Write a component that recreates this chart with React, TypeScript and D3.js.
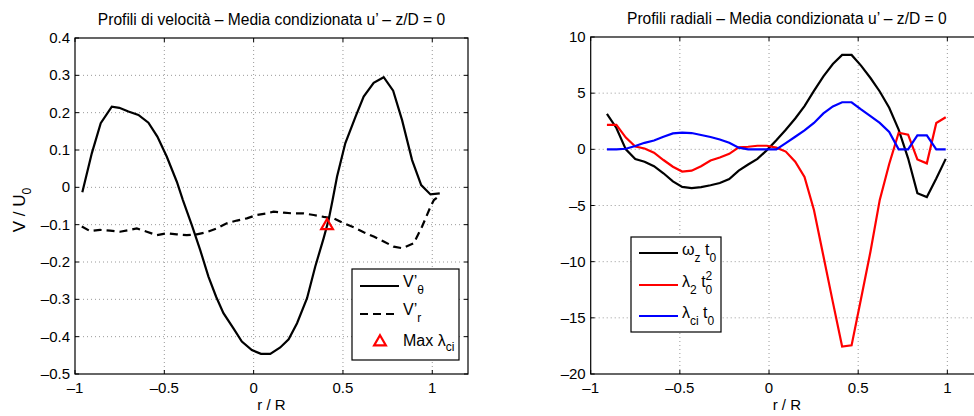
import React, { useEffect, useRef } from 'react';
import * as d3 from 'd3';

// ---- left panel: velocity profiles ----
const vthetaR = [-0.959, -0.906, -0.856, -0.794, -0.752, -0.701, -0.645, -0.589, -0.539, -0.486, -0.43, -0.396, -0.346, -0.299, -0.253, -0.21, -0.169, -0.113, -0.066, -0.01, 0.041, 0.093, 0.149, 0.196, 0.243, 0.299, 0.345, 0.392, 0.42, 0.442, 0.467, 0.513, 0.57, 0.616, 0.672, 0.728, 0.781, 0.831, 0.887, 0.938, 0.99, 1.042];
const vthetaV = [-0.013, 0.091, 0.172, 0.216, 0.213, 0.203, 0.194, 0.173, 0.136, 0.082, 0.015, -0.034, -0.101, -0.168, -0.239, -0.293, -0.337, -0.378, -0.413, -0.436, -0.446, -0.446, -0.429, -0.407, -0.364, -0.297, -0.212, -0.136, -0.087, -0.034, 0.029, 0.118, 0.189, 0.243, 0.28, 0.295, 0.259, 0.18, 0.073, 0.006, -0.019, -0.016];
const vrR = [-0.962, -0.916, -0.86, -0.804, -0.748, -0.692, -0.654, -0.598, -0.542, -0.486, -0.43, -0.374, -0.318, -0.262, -0.206, -0.15, -0.094, -0.038, 0.018, 0.074, 0.112, 0.168, 0.224, 0.28, 0.336, 0.392, 0.448, 0.504, 0.56, 0.616, 0.672, 0.728, 0.784, 0.831, 0.896, 0.943, 0.99, 1.009, 1.042];
const vrV = [-0.105, -0.117, -0.114, -0.116, -0.119, -0.114, -0.11, -0.119, -0.128, -0.123, -0.126, -0.128, -0.126, -0.12, -0.11, -0.096, -0.089, -0.083, -0.074, -0.07, -0.065, -0.068, -0.07, -0.07, -0.074, -0.079, -0.083, -0.096, -0.107, -0.12, -0.132, -0.145, -0.159, -0.163, -0.15, -0.105, -0.052, -0.034, -0.022];
const maxLciR = [0.411];
const maxLciV = [-0.103];
const leftXTicks = [-1, -0.5, 0, 0.5, 1];
const leftYTicks = [-0.5, -0.4, -0.3, -0.2, -0.1, 0, 0.1, 0.2, 0.3, 0.4];

// ---- right panel: radial profiles ----
const radR = [-0.909, -0.856, -0.803, -0.75, -0.698, -0.645, -0.592, -0.539, -0.487, -0.434, -0.381, -0.328, -0.276, -0.223, -0.17, -0.117, -0.065, -0.012, 0.041, 0.094, 0.147, 0.199, 0.252, 0.305, 0.358, 0.41, 0.463, 0.516, 0.569, 0.621, 0.674, 0.727, 0.78, 0.832, 0.885, 0.938, 0.991];
const omegaZ = [3.15, 1.9, 0.0, -0.86, -1.1, -1.5, -2.13, -2.85, -3.35, -3.45, -3.36, -3.2, -3.0, -2.65, -1.9, -1.35, -0.85, -0.07, 0.8, 1.75, 2.75, 3.85, 5.2, 6.5, 7.6, 8.4, 8.4, 7.45, 6.35, 5.15, 3.7, 1.75, -0.8, -3.9, -4.25, -2.6, -0.85];
const lambda2 = [2.17, 2.17, 1.05, 0.25, 0.08, -0.3, -0.95, -1.55, -1.98, -1.9, -1.5, -1.0, -0.72, -0.4, 0.18, 0.23, 0.32, 0.32, 0.15, -0.2, -1.1, -2.45, -5.4, -9.5, -13.6, -17.55, -17.45, -13.3, -9.1, -4.5, -1.3, 1.48, 1.3, -0.9, -1.25, 2.35, 2.85];
const lambdaCi = [0, 0, 0.05, 0.3, 0.58, 0.78, 1.12, 1.42, 1.48, 1.45, 1.28, 1.1, 0.88, 0.58, 0.15, 0, 0, 0, 0, 0.55, 1.12, 1.68, 2.35, 3.2, 3.82, 4.19, 4.19, 3.55, 2.95, 2.35, 1.55, 0, 0, 1.25, 1.25, 0, 0];
const rightXTicks = [-1, -0.5, 0, 0.5, 1];
const rightYTicks = [-20, -15, -10, -5, 0, 5, 10];

const FONT = '"Liberation Sans", Arial, Helvetica, sans-serif';
const fmt = (d: number) => (d < 0 ? '\u2013' + String(Math.abs(d)) : String(d));

function drawAxes(g: any, x: any, y: any, xTicks: number[], yTicks: number[], title: string, w: number, h: number) {
  // dotted grid
  xTicks.forEach((t) => {
    if (Math.abs(x(t) - x.range()[0]) < 1 || Math.abs(x(t) - x.range()[1]) < 1) return;
    g.append('line').attr('x1', x(t)).attr('x2', x(t)).attr('y1', 0).attr('y2', h)
      .attr('stroke', '#999').attr('stroke-width', 1).attr('stroke-dasharray', '1,3');
  });
  yTicks.forEach((t) => {
    if (Math.abs(y(t) - h) < 1 || Math.abs(y(t)) < 1) return;
    g.append('line').attr('x1', 0).attr('x2', w).attr('y1', y(t)).attr('y2', y(t))
      .attr('stroke', '#999').attr('stroke-width', 1).attr('stroke-dasharray', '1,3');
  });
  // tick labels + inward ticks
  xTicks.forEach((t) => {
    g.append('line').attr('x1', x(t)).attr('x2', x(t)).attr('y1', h).attr('y2', h - 4).attr('stroke', '#000');
    g.append('line').attr('x1', x(t)).attr('x2', x(t)).attr('y1', 0).attr('y2', 4).attr('stroke', '#000');
    g.append('text').attr('x', x(t)).attr('y', h + 19).attr('text-anchor', 'middle')
      .attr('font-size', 15).attr('font-family', FONT).text(fmt(t));
  });
  yTicks.forEach((t) => {
    g.append('line').attr('x1', 0).attr('x2', 4).attr('y1', y(t)).attr('y2', y(t)).attr('stroke', '#000');
    g.append('line').attr('x1', w).attr('x2', w - 4).attr('y1', y(t)).attr('y2', y(t)).attr('stroke', '#000');
    g.append('text').attr('x', -5).attr('y', y(t) + 5).attr('text-anchor', 'end')
      .attr('font-size', 15).attr('font-family', FONT).text(fmt(t));
  });
  g.append('rect').attr('x', 0).attr('y', 0).attr('width', w).attr('height', h)
    .attr('fill', 'none').attr('stroke', '#000').attr('stroke-width', 1.2);
  g.append('text').attr('x', w / 2).attr('y', -13).attr('text-anchor', 'middle')
    .attr('font-size', 15.6).attr('font-family', FONT).text(title);
  g.append('text').attr('x', w / 2).attr('y', h + 36).attr('text-anchor', 'middle')
    .attr('font-size', 15).attr('font-family', FONT).text('r / R');
}

type Part = [string, number, number, number]; // text, dx, dy, font-size (0 = inherit)

function rich(sel: any, parts: Part[]) {
  parts.forEach(([t, dx, dy, size]) => {
    const ts = sel.append('tspan').text(t);
    if (dx) ts.attr('dx', dx);
    if (dy) ts.attr('dy', dy);
    if (size) ts.attr('font-size', size);
  });
}

export default function App() {
  const svgRef = useRef<SVGSVGElement>(null);

  useEffect(() => {
    const svg = d3.select(svgRef.current);
    svg.selectAll('*').remove();

    // ---------- left ----------
    const L = { left: 75, top: 38, w: 393, h: 336 };
    const xL = d3.scaleLinear().domain([-1, 1.2]).range([0, L.w]);
    const yL = d3.scaleLinear().domain([-0.5, 0.4]).range([L.h, 0]);
    const gL = svg.append('g').attr('transform', `translate(${L.left},${L.top})`);
    drawAxes(gL, xL, yL, leftXTicks, leftYTicks, 'Profili di velocit\u00e0 \u2013 Media condizionata u\u2019 \u2013 z/D = 0', L.w, L.h);

    const lineL = d3.line<[number, number]>().x((d) => xL(d[0])).y((d) => yL(d[1]));
    gL.append('path').datum(d3.zip(vthetaR, vthetaV) as [number, number][])
      .attr('d', lineL).attr('fill', 'none').attr('stroke', '#000').attr('stroke-width', 2.2);
    gL.append('path').datum(d3.zip(vrR, vrV) as [number, number][])
      .attr('d', lineL).attr('fill', 'none').attr('stroke', '#000').attr('stroke-width', 2.2)
      .attr('stroke-dasharray', '8,5');
    const tri = d3.symbol().type(d3.symbolTriangle).size(60);
    maxLciR.forEach((r, i) => {
      gL.append('path').attr('d', tri()).attr('transform', `translate(${xL(r)},${yL(maxLciV[i])})`)
        .attr('fill', 'none').attr('stroke', '#f00').attr('stroke-width', 2.2);
    });

    gL.append('text').attr('transform', `translate(-50,${L.h / 2 + 4}) rotate(-90)`)
      .attr('text-anchor', 'middle').attr('font-size', 17).attr('font-family', FONT)
      .call((t: any) => rich(t, [['V / U', 0, 0, 0], ['0', 0, 6, 12]]));

    // left legend
    const lg = gL.append('g').attr('transform', `translate(${352 - L.left},${269 - L.top})`);
    lg.append('rect').attr('width', 107).attr('height', 91).attr('fill', '#fff').attr('stroke', '#000').attr('stroke-width', 1.2);
    const lgRows = [17, 45, 73];
    lg.append('line').attr('x1', 8).attr('x2', 47).attr('y1', lgRows[0]).attr('y2', lgRows[0]).attr('stroke', '#000').attr('stroke-width', 2.2);
    lg.append('line').attr('x1', 8).attr('x2', 47).attr('y1', lgRows[1]).attr('y2', lgRows[1]).attr('stroke', '#000').attr('stroke-width', 2.2).attr('stroke-dasharray', '8,5');
    lg.append('path').attr('d', tri()).attr('transform', `translate(28,${lgRows[2]})`).attr('fill', 'none').attr('stroke', '#f00').attr('stroke-width', 2.2);
    const lgText = (row: number, parts: Part[]) =>
      lg.append('text').attr('x', 51).attr('y', row + 1).attr('font-size', 16).attr('font-family', FONT)
        .call((t: any) => rich(t, parts));
    lgText(lgRows[0], [["V\u2019", 0, 0, 0], ['\u03b8', 0, 7, 12]]);
    lgText(lgRows[1], [["V\u2019", 0, 0, 0], ['r', 0, 7, 12]]);
    lgText(lgRows[2] + 3, [['Max \u03bb', 0, 0, 0], ['ci', 0, 5, 12]]);

    // ---------- right ----------
    const R = { left: 590.7, top: 37, w: 392.3, h: 337 };
    const xR = d3.scaleLinear().domain([-1, 1.2]).range([0, R.w]);
    const yR = d3.scaleLinear().domain([-20, 10]).range([R.h, 0]);
    const gR = svg.append('g').attr('transform', `translate(${R.left},${R.top})`);
    drawAxes(gR, xR, yR, rightXTicks, rightYTicks, 'Profili radiali \u2013 Media condizionata u\u2019 \u2013 z/D = 0', R.w, R.h);
    const lineR = d3.line<number>().x((_, i) => xR(radR[i])).y((d) => yR(d));
    const seriesR: [number[], string][] = [[omegaZ, '#000'], [lambda2, '#f00'], [lambdaCi, '#00f']];
    seriesR.forEach(([vals, c]) => {
      gR.append('path').datum(vals).attr('d', lineR).attr('fill', 'none').attr('stroke', c).attr('stroke-width', 2.2);
    });

    const rg = gR.append('g').attr('transform', `translate(${631 - R.left},${237 - R.top})`);
    rg.append('rect').attr('width', 90).attr('height', 95).attr('fill', '#fff').attr('stroke', '#000').attr('stroke-width', 1.2);
    const rgRows = [16, 48, 79];
    seriesR.forEach(([, c], i) => {
      rg.append('line').attr('x1', 8).attr('x2', 47).attr('y1', rgRows[i]).attr('y2', rgRows[i]).attr('stroke', c).attr('stroke-width', 2.2);
    });
    const rgText = (row: number, parts: Part[]) =>
      rg.append('text').attr('x', 51).attr('y', row + 2).attr('font-size', 16).attr('font-family', FONT)
        .call((t: any) => rich(t, parts));
    rgText(rgRows[0], [['\u03c9', 0, 0, 0], ['z', 0, 7, 12], [' t', 0, -7, 0], ['0', 0, 7, 12]]);
    rgText(rgRows[1], [['\u03bb', 0, 0, 0], ['2', 0, 7, 12], [' t', 0, -7, 0], ['2', 0, -7, 12], ['0', -6.7, 14, 12]]);
    rgText(rgRows[2], [['\u03bb', 0, 0, 0], ['ci', 0, 7, 12], [' t', 0, -7, 0], ['0', 0, 7, 12]]);
  }, []);

  return (
    <svg ref={svgRef} width={974} height={416}
      style={{ position: 'absolute', left: 0, top: 0, background: '#fff', display: 'block' }} />
  );
}
